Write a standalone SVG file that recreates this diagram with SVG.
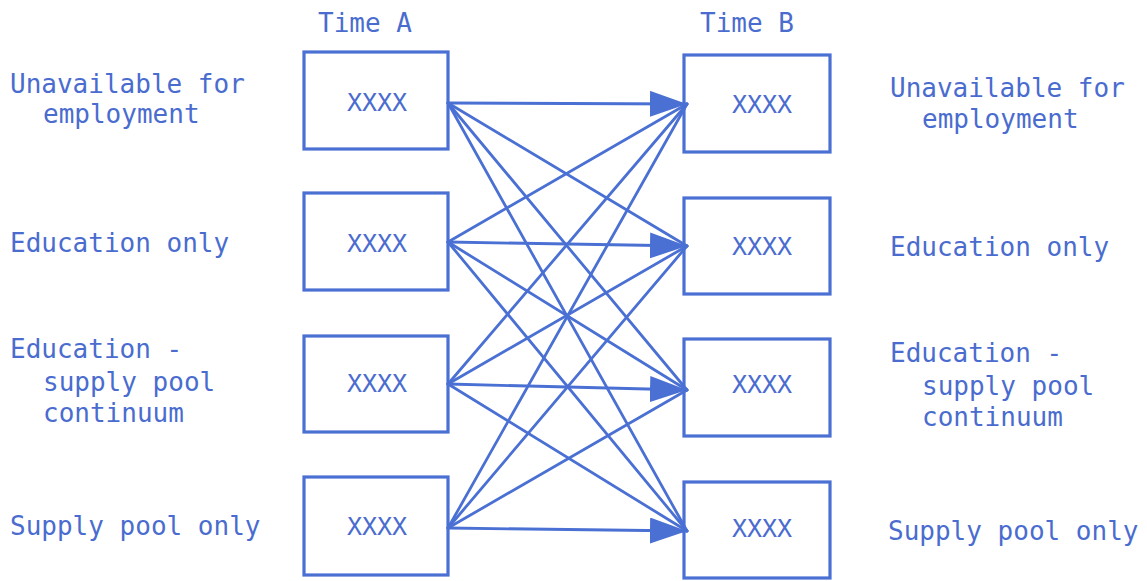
<svg xmlns="http://www.w3.org/2000/svg" width="1147" height="581" viewBox="0 0 1147 581">
  <style>
    .box { fill: #ffffff; stroke: #4a70d4; stroke-width: 3.2; }
    .link { stroke: #4a70d4; stroke-width: 2.8; fill: none; stroke-linecap: round; }
    .lbl { font-family: "DejaVu Sans Mono", "Liberation Mono", monospace; font-size: 26px; fill: #4a6ccf; }
    .cell { font-family: "DejaVu Sans Mono", "Liberation Mono", monospace; font-size: 25px; fill: #4a6ccf; text-anchor: middle; }
  </style>
  <defs>
    <marker id="head" markerUnits="userSpaceOnUse" markerWidth="38" markerHeight="27" refX="37" refY="13" orient="auto">
      <path d="M0,0 L37,13 L0,26 z" fill="#4a70d4"/>
    </marker>
  </defs>
  <rect width="1147" height="581" fill="#ffffff"/>

  <!-- column headings -->
  <text class="lbl" x="318" y="32">Time A</text>
  <text class="lbl" x="700" y="32">Time B</text>

  <!-- side labels, left -->
  <text class="lbl" x="10" y="93">Unavailable for</text>
  <text class="lbl" x="43" y="123">employment</text>
  <text class="lbl" x="10" y="252">Education only</text>
  <text class="lbl" x="10" y="358">Education -</text>
  <text class="lbl" x="43" y="391">supply pool</text>
  <text class="lbl" x="43" y="422">continuum</text>
  <text class="lbl" x="10" y="535">Supply pool only</text>

  <!-- side labels, right -->
  <text class="lbl" x="890" y="97">Unavailable for</text>
  <text class="lbl" x="922" y="128">employment</text>
  <text class="lbl" x="890" y="256">Education only</text>
  <text class="lbl" x="890" y="362">Education -</text>
  <text class="lbl" x="922" y="395">supply pool</text>
  <text class="lbl" x="922" y="426">continuum</text>
  <text class="lbl" x="888" y="540">Supply pool only</text>

  <!-- Time A states -->
  <g id="a1"><rect class="box" x="304" y="52" width="144" height="97"/><text class="cell" x="377" y="111">XXXX</text></g>
  <g id="a2"><rect class="box" x="304" y="193" width="144" height="97"/><text class="cell" x="377" y="252">XXXX</text></g>
  <g id="a3"><rect class="box" x="304" y="336" width="144" height="96"/><text class="cell" x="377" y="392">XXXX</text></g>
  <g id="a4"><rect class="box" x="304" y="477" width="144" height="98"/><text class="cell" x="377" y="535">XXXX</text></g>

  <!-- Time B states -->
  <g id="b1"><rect class="box" x="684" y="55" width="146" height="97"/><text class="cell" x="762" y="113">XXXX</text></g>
  <g id="b2"><rect class="box" x="684" y="198" width="146" height="96"/><text class="cell" x="762" y="255">XXXX</text></g>
  <g id="b3"><rect class="box" x="684" y="339" width="146" height="97"/><text class="cell" x="762" y="393">XXXX</text></g>
  <g id="b4"><rect class="box" x="684" y="482" width="146" height="96"/><text class="cell" x="762" y="537">XXXX</text></g>

  <!-- transitions: every state at A to every state at B -->
  <g id="connectors">
    <line class="link" x1="448" y1="103" x2="687" y2="104" marker-end="url(#head)"/>
    <line class="link" x1="448" y1="103" x2="687" y2="246"/>
    <line class="link" x1="448" y1="103" x2="687" y2="390"/>
    <line class="link" x1="448" y1="103" x2="687" y2="531"/>

    <line class="link" x1="448" y1="242" x2="687" y2="104"/>
    <line class="link" x1="448" y1="242" x2="687" y2="246" marker-end="url(#head)"/>
    <line class="link" x1="448" y1="242" x2="687" y2="390"/>
    <line class="link" x1="448" y1="242" x2="687" y2="531"/>

    <line class="link" x1="448" y1="384" x2="687" y2="104"/>
    <line class="link" x1="448" y1="384" x2="687" y2="246"/>
    <line class="link" x1="448" y1="384" x2="687" y2="390" marker-end="url(#head)"/>
    <line class="link" x1="448" y1="384" x2="687" y2="531"/>

    <line class="link" x1="448" y1="528" x2="687" y2="104"/>
    <line class="link" x1="448" y1="528" x2="687" y2="246"/>
    <line class="link" x1="448" y1="528" x2="687" y2="390"/>
    <line class="link" x1="448" y1="528" x2="687" y2="531" marker-end="url(#head)"/>
  </g>
</svg>
